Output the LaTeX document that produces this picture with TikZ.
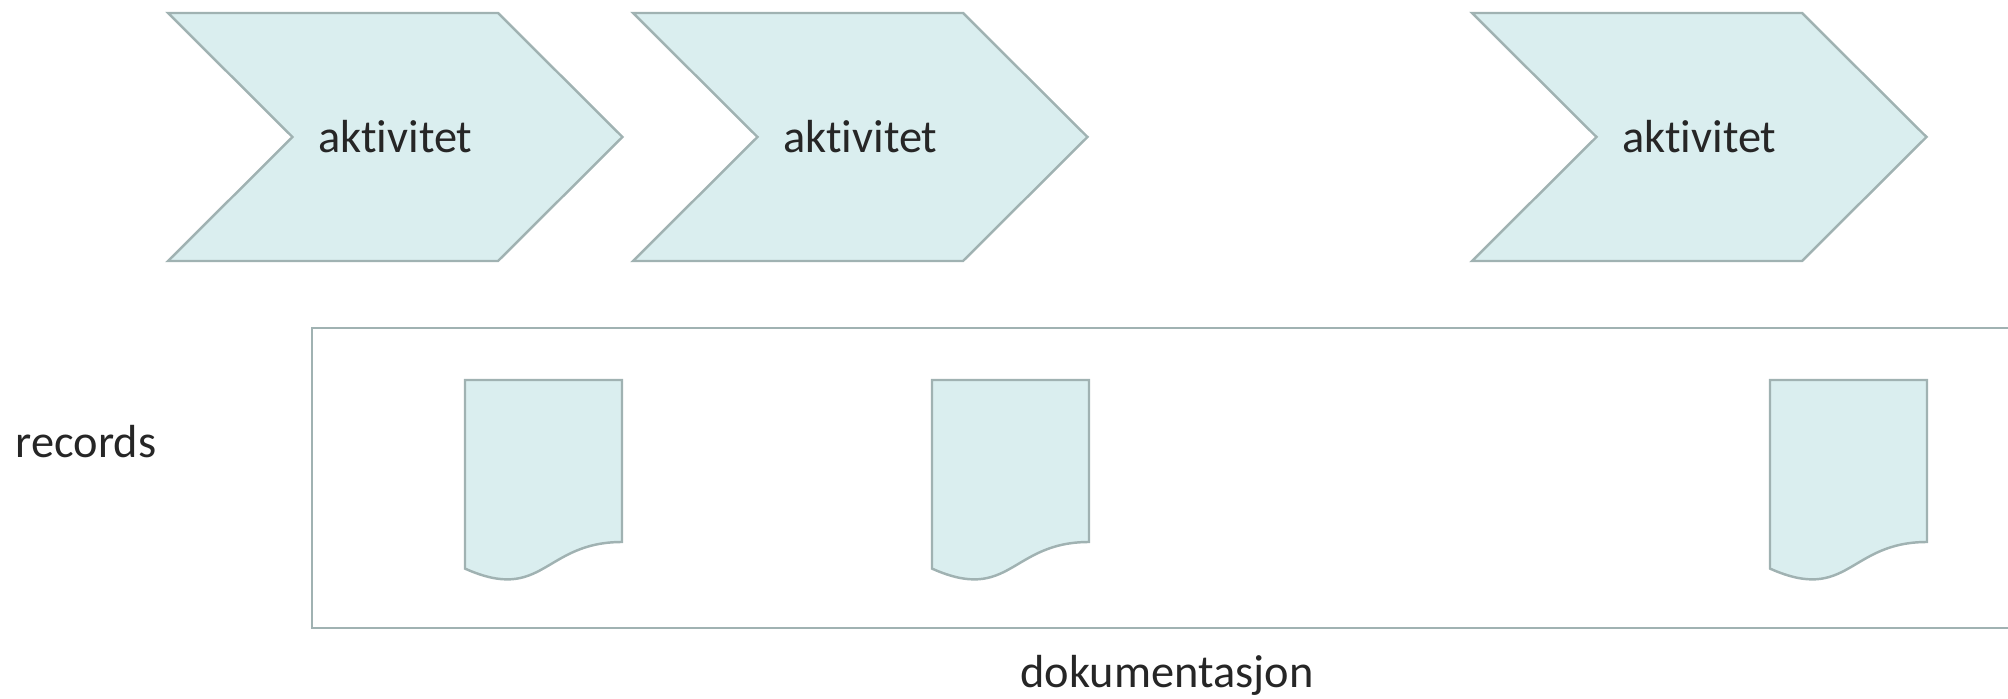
\documentclass[tikz,border=0pt]{standalone}
\usepackage{fontspec}
\setmainfont{Carlito}[Ligatures=NoCommon]
\definecolor{chevfill}{RGB}{218,238,239}
\definecolor{chevline}{RGB}{160,178,178}
\definecolor{txtgray}{RGB}{38,38,38}

\begin{document}
\begin{tikzpicture}[
   actshape/.style={draw=chevline, fill=chevfill, line width=.7pt, line join=miter},
   lbl/.style={text=txtgray, inner sep=0pt, font=\fontsize{13.2}{16}\selectfont}]
   \useasboundingbox (0,0) rectangle (20.08,-6.99);

   \foreach \x/\n in {1.68/1, 6.33/2, 14.72/3} {
   \draw[actshape] (\x,-.13) --++ (3.30,0) --++ (1.245,-1.24) --++ (-1.245,-1.24)
      --++ (-3.30,0) --++ (1.245,1.24) -- cycle;
   \node[lbl] (akt\n) at (\x+2.2725,-1.37) {aktivitet};
   }

   \draw[draw=chevline, line width=.7pt] (3.12,-3.28) rectangle (20.4,-6.28);

   \foreach \x in {4.65, 9.32, 17.70}
   \draw[actshape] (\x,-3.8) -- (\x+1.57,-3.8) -- (\x+1.57,-5.42)
      .. controls +(-.785,0) and +(.785,-.351) .. (\x,-5.686) -- cycle;

   \node[lbl] (rec) at (.86,-4.42) {records};
   \node[lbl] (dok) at (11.67,-6.75) {dokumentasjon};

\end{tikzpicture}
\end{document}
